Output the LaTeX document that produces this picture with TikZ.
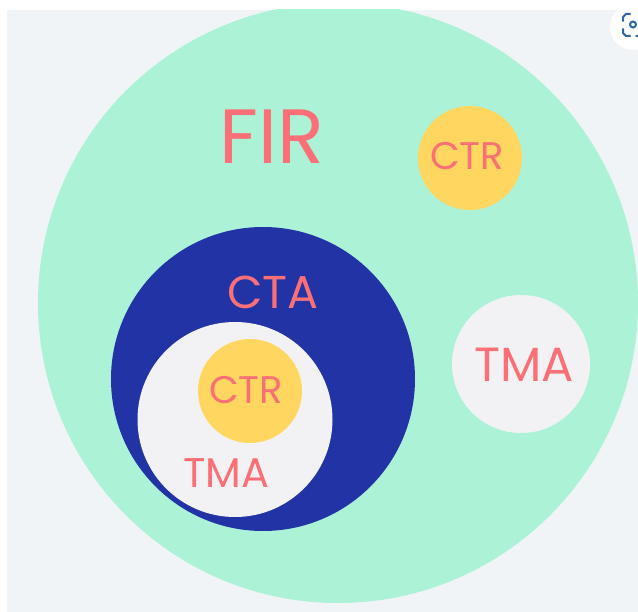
\documentclass[tikz,border=0pt]{standalone}
\usepackage{fontspec}
\setmainfont{Poppins}
\definecolor{pagebg}{HTML}{F0F4F7}
\definecolor{firgreen}{HTML}{ABF2D7}
\definecolor{ctablue}{HTML}{2234A5}
\definecolor{tmagrey}{HTML}{F2F2F4}
\definecolor{ctryellow}{HTML}{FFD65F}
\definecolor{labelred}{HTML}{FB7076}
\definecolor{iconblue}{HTML}{2F66A8}
\tikzset{
	zone/.style={circle,inner sep=0pt,minimum size=#1},
	zonelabel/.style={text=labelred,inner sep=0pt},
}

\begin{document}
\begin{tikzpicture}[x=1pt,y=-1pt]
	\useasboundingbox (0,0) rectangle (638,612);
	\begin{scope}
		\clip (7,10) rectangle (638,612);
		\fill[pagebg] (7,10) rectangle (638,612);
		\node (fir)[zone=600pt,fill=firgreen] at (338,303){};
	\end{scope}
	\node (cta)[zone=304pt,fill=ctablue] at (263,379){};
	\node (tmain)[zone=195pt,fill=tmagrey] at (235,419.5){};
	\node (ctrin)[zone=104pt,fill=ctryellow] at (250,391){};
	\node (ctrout)[zone=104pt,fill=ctryellow] at (470,158){};
	\node (tmaout)[zone=138pt,fill=tmagrey] at (521,364){};
	\node (firtext)[zonelabel,font=\fontsize{77}{77}\selectfont] at (272,137){FIR};
	\node (ctatext)[zonelabel,font=\fontsize{46}{46}\selectfont] at (273,292){CTA};
	\node (ctrouttext)[zonelabel,font=\fontsize{38.5}{38.5}\selectfont] at (467,156){CTR};
	\node (ctrintext)[zonelabel,font=\fontsize{38.5}{38.5}\selectfont] at (246,390){CTR};
	\node (tmaouttext)[zonelabel,font=\fontsize{48}{48}\selectfont] at (524.5,365){TMA};
	\node (tmaintext)[zonelabel,font=\fontsize{41.5}{41.5}\selectfont] at (226.5,473){TMA};
	% lens button, top right
	\begin{scope}
		\clip (0,0) rectangle (638,612);
		\node (lens)[zone=46pt,fill=white] at (633,27){};
		\draw[iconblue,line width=2pt,line cap=round] (630,14) -- (626,14) -- (623,17) -- (623,21);
		\draw[iconblue,line width=2pt,line cap=round] (630,36) -- (626,36) -- (623,33) -- (623,29);
		\draw[iconblue,line width=2pt] (633,24.5) circle (3pt);
		\draw[iconblue,line width=2pt,line cap=round] (638,36) -- (636,36);
	\end{scope}
\end{tikzpicture}
\end{document}
